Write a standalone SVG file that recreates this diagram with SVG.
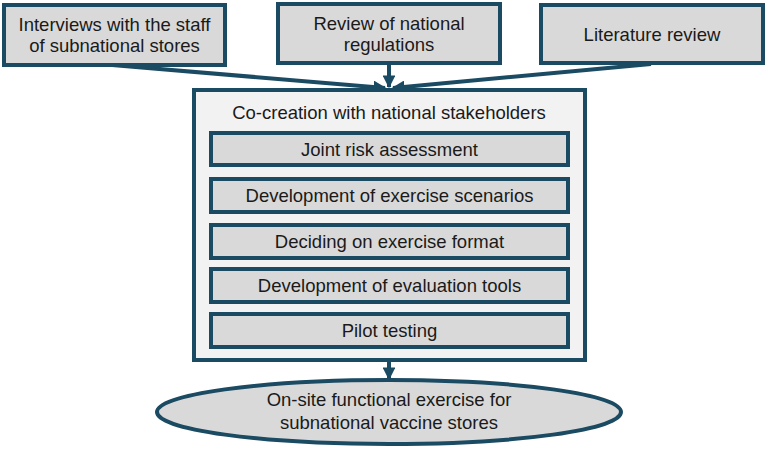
<svg xmlns="http://www.w3.org/2000/svg" width="767" height="450" viewBox="0 0 767 450">
<defs>
<marker id="ah" viewBox="0 0 10 10" refX="9" refY="5" markerWidth="3.2" markerHeight="3.2" orient="auto" markerUnits="strokeWidth">
<path d="M0,0 L10,5 L0,10 z" fill="#1b4a63"/>
</marker>
<style>
.box{fill:#d9d9d9;stroke:#1b4a63;stroke-width:4}
.big{fill:#f2f2f2;stroke:#1b4a63;stroke-width:4}
.t{font-family:"Liberation Sans",Arial,sans-serif;font-size:18.5px;fill:#1a1a1a;text-anchor:middle}
.c{stroke:#1b4a63;stroke-width:4;fill:none}
</style>
</defs>
<rect width="767" height="450" fill="#ffffff"/>
<g id="connectors">
<line class="c" x1="112" y1="65" x2="385" y2="88" marker-end="url(#ah)"/>
<line class="c" x1="389" y1="64" x2="389" y2="87" marker-end="url(#ah)"/>
<line class="c" x1="651" y1="64" x2="393" y2="88" marker-end="url(#ah)"/>
<line class="c" x1="389" y1="361" x2="389" y2="379" marker-end="url(#ah)"/>
</g>
<g id="n1"><rect class="box" x="4" y="5" width="221" height="60"/><text class="t" x="114.5" y="31">Interviews with the staff</text><text class="t" x="114.5" y="52">of subnational stores</text></g>
<g id="n2"><rect class="box" x="278" y="4" width="222" height="59"/><text class="t" x="389" y="29.5">Review of national</text><text class="t" x="389" y="50.5">regulations</text></g>
<g id="n3"><rect class="box" x="541" y="5" width="222" height="58"/><text class="t" x="652" y="40.5">Literature review</text></g>
<g id="n4"><rect class="big" x="194" y="90" width="391" height="270"/><text class="t" x="389" y="118.5">Co-creation with national stakeholders</text></g>
<g id="n5"><rect class="box" x="211" y="133" width="357" height="32"/><text class="t" x="389.5" y="155.5">Joint risk assessment</text></g>
<g id="n6"><rect class="box" x="211" y="179" width="357" height="33"/><text class="t" x="389.5" y="202">Development of exercise scenarios</text></g>
<g id="n7"><rect class="box" x="211" y="225" width="357" height="33"/><text class="t" x="389.5" y="248">Deciding on exercise format</text></g>
<g id="n8"><rect class="box" x="211" y="269" width="357" height="33"/><text class="t" x="389.5" y="292">Development of evaluation tools</text></g>
<g id="n9"><rect class="box" x="211" y="314" width="357" height="33"/><text class="t" x="389.5" y="337">Pilot testing</text></g>
<g id="n10"><ellipse class="box" cx="389" cy="412" rx="232" ry="32"/><text class="t" x="389" y="406">On-site functional exercise for</text><text class="t" x="389" y="429">subnational vaccine stores</text></g>
</svg>
